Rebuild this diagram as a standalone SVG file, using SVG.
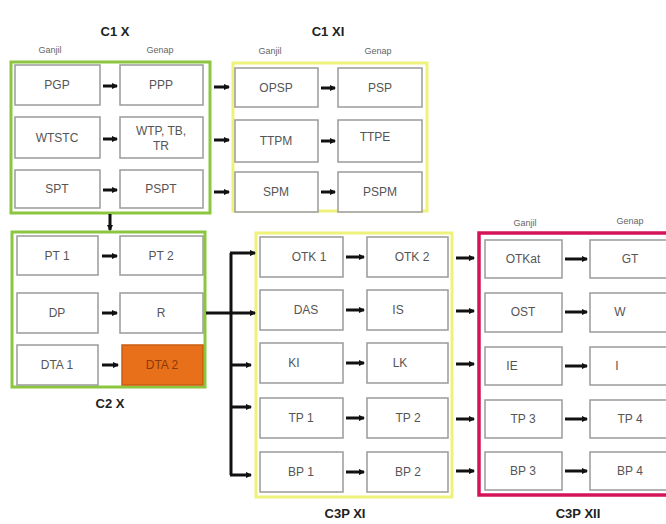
<svg xmlns="http://www.w3.org/2000/svg" width="666" height="524" viewBox="0 0 666 524">
<style>
.bx{fill:#fff;stroke:#9a9a9a;stroke-width:1.5}
.t{font-family:"Liberation Sans",Arial,sans-serif;font-size:12px;fill:#555;text-anchor:middle;dominant-baseline:central}
.s{font-family:"Liberation Sans",Arial,sans-serif;font-size:9px;fill:#666;text-anchor:middle}
.h{font-family:"Liberation Sans",Arial,sans-serif;font-size:13px;font-weight:bold;fill:#222;text-anchor:middle}
.g{fill:none;stroke:#8cc63f;stroke-width:3}
.y{fill:none;stroke:#eef27a;stroke-width:3}
.r{fill:none;stroke:#d4145a;stroke-width:3.5}
.a{stroke:#111;stroke-width:3;marker-end:url(#ah)}
.ln{stroke:#111;stroke-width:3;fill:none}
</style>
<defs>
<marker id="ah" viewBox="0 0 6 6" refX="5" refY="3" markerWidth="2.2" markerHeight="2.2" orient="auto"><path d="M0,0 L6,3 L0,6 z" fill="#111"/></marker>
</defs>
<rect width="666" height="524" fill="#fff"/>
<text class="h" x="115" y="36">C1 X</text>
<text class="s" x="50" y="53">Ganjil</text>
<text class="s" x="160" y="53">Genap</text>
<text class="h" x="328" y="36">C1 XI</text>
<text class="s" x="270" y="54">Ganjil</text>
<text class="s" x="378" y="54">Genap</text>
<text class="h" x="110" y="408">C2 X</text>
<text class="h" x="345" y="518">C3P XI</text>
<text class="s" x="525" y="226">Ganjil</text>
<text class="s" x="630" y="224">Genap</text>
<text class="h" x="578" y="518">C3P XII</text>
<rect class="g" x="11" y="62" width="199" height="151"/>
<rect class="y" x="233" y="63" width="194" height="148"/>
<rect class="g" x="12" y="232" width="193" height="155"/>
<rect class="y" x="256" y="233" width="196" height="264"/>
<rect class="r" x="479" y="233" width="200" height="262"/>
<g id="n-pgp"><rect class="bx" x="15" y="65" width="85" height="40"/><text class="t" x="57" y="85">PGP</text></g>
<g id="n-ppp"><rect class="bx" x="120" y="65" width="83" height="40"/><text class="t" x="161" y="85">PPP</text></g>
<g id="n-wtstc"><rect class="bx" x="15" y="117" width="85" height="41"/><text class="t" x="57" y="138">WTSTC</text></g>
<g id="n-wtp"><rect class="bx" x="120" y="117" width="83" height="41"/><text class="t" x="161" y="131">WTP, TB,</text><text class="t" x="161" y="146">TR</text></g>
<g id="n-spt"><rect class="bx" x="15" y="170" width="85" height="38"/><text class="t" x="57" y="189">SPT</text></g>
<g id="n-pspt"><rect class="bx" x="120" y="170" width="83" height="38"/><text class="t" x="161" y="189">PSPT</text></g>
<g id="n-opsp"><rect class="bx" x="235" y="68" width="83" height="39"/><text class="t" x="276" y="88">OPSP</text></g>
<g id="n-psp"><rect class="bx" x="338" y="68" width="84" height="39"/><text class="t" x="380" y="88">PSP</text></g>
<g id="n-ttpm"><rect class="bx" x="235" y="120" width="83" height="42"/><text class="t" x="276" y="141">TTPM</text></g>
<g id="n-ttpe"><rect class="bx" x="338" y="120" width="84" height="42"/><text class="t" x="375" y="137">TTPE</text></g>
<g id="n-spm"><rect class="bx" x="235" y="172" width="83" height="40"/><text class="t" x="276" y="192">SPM</text></g>
<g id="n-pspm"><rect class="bx" x="338" y="172" width="84" height="40"/><text class="t" x="380" y="192">PSPM</text></g>
<g id="n-pt1"><rect class="bx" x="17" y="236" width="81" height="39"/><text class="t" x="57" y="256">PT 1</text></g>
<g id="n-pt2"><rect class="bx" x="120" y="236" width="83" height="39"/><text class="t" x="161" y="256">PT 2</text></g>
<g id="n-dp"><rect class="bx" x="17" y="293" width="81" height="40"/><text class="t" x="57" y="313">DP</text></g>
<g id="n-r"><rect class="bx" x="120" y="293" width="83" height="40"/><text class="t" x="161" y="313">R</text></g>
<g id="n-dta1"><rect class="bx" x="17" y="345" width="81" height="40"/><text class="t" x="57" y="365">DTA 1</text></g>
<g id="n-dta2"><rect x="122" y="345" width="81" height="40" fill="#e8701a" stroke="#c85e10" stroke-width="1.5"/><text class="t" x="162" y="365" style="fill:#8a3a05">DTA 2</text></g>
<g id="n-otk1"><rect class="bx" x="260" y="237" width="83" height="40"/><text class="t" x="309" y="257">OTK 1</text></g>
<g id="n-otk2"><rect class="bx" x="367" y="237" width="81" height="40"/><text class="t" x="412" y="257">OTK 2</text></g>
<g id="n-das"><rect class="bx" x="260" y="290" width="83" height="40"/><text class="t" x="306" y="310">DAS</text></g>
<g id="n-is"><rect class="bx" x="367" y="290" width="81" height="40"/><text class="t" x="398" y="310">IS</text></g>
<g id="n-ki"><rect class="bx" x="260" y="343" width="83" height="40"/><text class="t" x="294" y="363">KI</text></g>
<g id="n-lk"><rect class="bx" x="367" y="343" width="81" height="40"/><text class="t" x="400" y="363">LK</text></g>
<g id="n-tp1"><rect class="bx" x="260" y="398" width="83" height="40"/><text class="t" x="301" y="418">TP 1</text></g>
<g id="n-tp2"><rect class="bx" x="367" y="398" width="81" height="40"/><text class="t" x="408" y="418">TP 2</text></g>
<g id="n-bp1"><rect class="bx" x="260" y="452" width="83" height="40"/><text class="t" x="301" y="472">BP 1</text></g>
<g id="n-bp2"><rect class="bx" x="367" y="452" width="81" height="40"/><text class="t" x="408" y="472">BP 2</text></g>
<g id="n-otkat"><rect class="bx" x="485" y="240" width="77" height="38"/><text class="t" x="523" y="259">OTKat</text></g>
<g id="n-gt"><rect class="bx" x="590" y="240" width="82" height="38"/><text class="t" x="630" y="259">GT</text></g>
<g id="n-ost"><rect class="bx" x="485" y="293" width="77" height="39"/><text class="t" x="523" y="312">OST</text></g>
<g id="n-w"><rect class="bx" x="590" y="293" width="82" height="39"/><text class="t" x="620" y="312">W</text></g>
<g id="n-ie"><rect class="bx" x="485" y="347" width="77" height="38"/><text class="t" x="512" y="366">IE</text></g>
<g id="n-i"><rect class="bx" x="590" y="347" width="82" height="38"/><text class="t" x="617" y="366">I</text></g>
<g id="n-tp3"><rect class="bx" x="485" y="400" width="77" height="38"/><text class="t" x="523" y="419">TP 3</text></g>
<g id="n-tp4"><rect class="bx" x="590" y="400" width="82" height="38"/><text class="t" x="630" y="419">TP 4</text></g>
<g id="n-bp3"><rect class="bx" x="485" y="452" width="77" height="38"/><text class="t" x="523" y="471">BP 3</text></g>
<g id="n-bp4"><rect class="bx" x="590" y="452" width="82" height="38"/><text class="t" x="630" y="471">BP 4</text></g>
<g id="connectors">
<line class="a" x1="103" y1="86" x2="117" y2="86"/>
<line class="a" x1="103" y1="139" x2="117" y2="139"/>
<line class="a" x1="103" y1="190" x2="117" y2="190"/>
<line class="a" x1="214" y1="87" x2="229" y2="87"/>
<line class="a" x1="214" y1="140" x2="229" y2="140"/>
<line class="a" x1="214" y1="192" x2="229" y2="192"/>
<line class="a" x1="321" y1="88" x2="335" y2="88"/>
<line class="a" x1="321" y1="141" x2="335" y2="141"/>
<line class="a" x1="321" y1="192" x2="335" y2="192"/>
<line class="a" x1="110" y1="214" x2="110" y2="230"/>
<line class="a" x1="102" y1="256" x2="117" y2="256"/>
<line class="a" x1="102" y1="313" x2="117" y2="313"/>
<line class="a" x1="102" y1="365" x2="118" y2="365"/>
<line class="ln" x1="231" y1="253" x2="231" y2="475"/>
<line class="a" x1="206" y1="313" x2="255" y2="313"/>
<line class="a" x1="230" y1="253" x2="255" y2="253"/>
<line class="a" x1="230" y1="365" x2="251" y2="365"/>
<line class="a" x1="230" y1="407" x2="251" y2="407"/>
<line class="a" x1="230" y1="475" x2="251" y2="475"/>
<line class="a" x1="346" y1="257" x2="364" y2="257"/>
<line class="a" x1="346" y1="310" x2="364" y2="310"/>
<line class="a" x1="346" y1="363" x2="364" y2="363"/>
<line class="a" x1="346" y1="418" x2="364" y2="418"/>
<line class="a" x1="346" y1="472" x2="364" y2="472"/>
<line class="a" x1="456" y1="258" x2="474" y2="258"/>
<line class="a" x1="456" y1="311" x2="474" y2="311"/>
<line class="a" x1="456" y1="364" x2="474" y2="364"/>
<line class="a" x1="456" y1="419" x2="474" y2="419"/>
<line class="a" x1="456" y1="471" x2="474" y2="471"/>
<line class="a" x1="565" y1="259" x2="587" y2="259"/>
<line class="a" x1="565" y1="312" x2="587" y2="312"/>
<line class="a" x1="565" y1="366" x2="587" y2="366"/>
<line class="a" x1="565" y1="419" x2="587" y2="419"/>
<line class="a" x1="565" y1="471" x2="587" y2="471"/>
</g>
</svg>
